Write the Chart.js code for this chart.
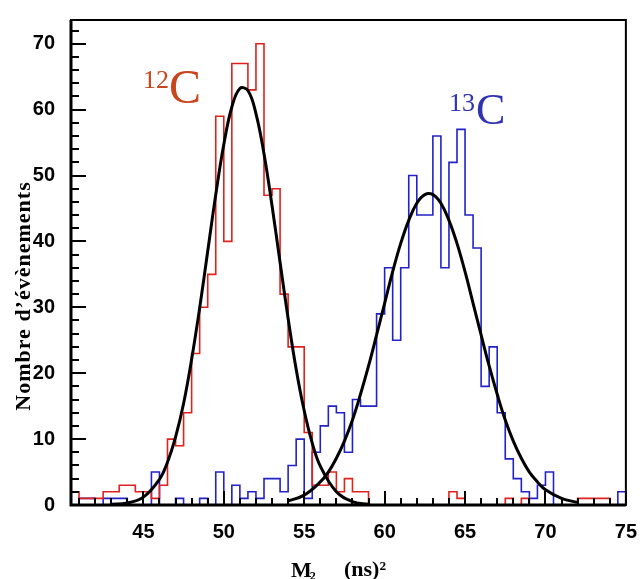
<!DOCTYPE html>
<html>
<head>
<meta charset="utf-8">
<title>M2 12C / 13C</title>
<script src="https://cdn.jsdelivr.net/npm/chart.js@4.4.0/dist/chart.umd.min.js"></script>
<style>
  html, body { margin: 0; padding: 0; background: #fff; }
  canvas { display: block; }
</style>
</head>
<body>
<canvas id="graph" width="644" height="579"></canvas>
<script>
// histogram bin edges, M2 in (ns)^2, bins 0.5 wide
var binEdges = [40.5, 41, 41.5, 42, 42.5, 43, 43.5, 44, 44.5, 45,
                45.5, 46, 46.5, 47, 47.5, 48, 48.5, 49, 49.5, 50,
                50.5, 51, 51.5, 52, 52.5, 53, 53.5, 54, 54.5, 55,
                55.5, 56, 56.5, 57, 57.5, 58, 58.5, 59, 59.5, 60,
                60.5, 61, 61.5, 62, 62.5, 63, 63.5, 64, 64.5, 65,
                65.5, 66, 66.5, 67, 67.5, 68, 68.5, 69, 69.5, 70,
                70.5, 71, 71.5, 72, 72.5, 73, 73.5, 74, 74.5, 75];

// counts per bin (one per left edge)
var counts12C = [2, 1, 1, 1, 2, 2, 3, 3, 2, 2,
                 1, 3, 10, 9, 14, 23, 30, 35, 59, 40,
                 67, 67, 63, 70, 47, 48, 32, 24, 24, 11,
                 3, 3, 5, 2, 4, 2, 2, 0, 0, 0,
                 0, 0, 0, 0, 0, 0, 0, 2, 1, 0,
                 0, 0, 0, 0, 1, 0, 1, 0, 0, 0,
                 0, 0, 0, 1, 1, 1, 1, 0, 0];

var counts13C = [0, 1, 1, 0, 1, 1, 1, 0, 0, 0,
                 5, 0, 0, 1, 0, 0, 1, 0, 5, 0,
                 3, 1, 2, 1, 4, 4, 2, 6, 10, 1,
                 8, 12, 15, 14, 8, 16, 15, 15, 29, 36,
                 25, 36, 50, 44, 44, 56, 36, 52, 57, 44,
                 39, 18, 24, 14, 7, 4, 2, 1, 3, 5,
                 0, 0, 0, 0, 0, 0, 0, 0, 2];

// fitted curves
var fit12X = [43, 44, 45, 46, 46.5, 47, 47.5, 48, 48.5, 49, 49.5, 50, 50.5, 51,
              51.5, 52, 52.5, 53, 53.5, 54, 54.5, 55, 55.5, 56, 57, 58, 59];
var fit12Y = [0.1, 0.3, 1.2, 3.9, 6.5, 10.3, 15.4, 22.1, 29.9, 38.5, 47.1, 54.7, 60.4, 63.2,
              62.9, 59.4, 53.3, 45.4, 36.8, 28.3, 20.6, 14.3, 9.4, 5.9, 2.0, 0.5, 0.1];

var fit13X = [54, 55, 56, 56.5, 57, 57.5, 58, 58.5, 59, 59.5, 60, 60.5, 61, 61.5, 62, 62.5,
              63, 63.5, 64, 64.5, 65, 65.5, 66, 66.5, 67, 67.5, 68, 68.5, 69, 69.5, 70, 71, 72];
var fit13Y = [0.6, 1.5, 3.5, 5.0, 7.1, 9.7, 12.9, 16.8, 21.1, 25.8, 30.6, 35.4, 39.7, 43.2, 45.8, 47.1,
              47.1, 45.8, 43.2, 39.7, 35.4, 30.6, 25.8, 21.1, 16.8, 12.9, 9.7, 7.1, 5.0, 3.5, 2.3, 1.0, 0.4];

var xTickValues = [45, 50, 55, 60, 65, 70, 75];
var yTickValues = [0, 10, 20, 30, 40, 50, 60, 70];

function histPoints(counts) {
    var pts = counts.map(function (c, i) { return {x: binEdges[i], y: c}; });
    pts.push({x: binEdges[binEdges.length - 1], y: 0});
    return pts;
}
function curvePoints(xs, ys) {
    return xs.map(function (v, i) { return {x: v, y: ys[i]}; });
}

var tickFont = {family: "'Liberation Sans', Arial, sans-serif", size: 20, weight: 'bold'};
var serif = '"Liberation Serif", "DejaVu Serif", serif';

var decorations = {
    id: 'decorations',
    afterDraw: function (chart) {
        var ctx = chart.ctx, a = chart.chartArea, xs = chart.scales.x, ys = chart.scales.y;
        ctx.save();
        ctx.strokeStyle = '#000';
        // frame
        ctx.lineWidth = 2;
        ctx.strokeRect(a.left, a.top, a.right - a.left, a.bottom - a.top);
        ctx.lineWidth = 3;
        ctx.beginPath();
        ctx.moveTo(a.left, a.top);
        ctx.lineTo(a.left, a.bottom);
        ctx.lineTo(a.right, a.bottom);
        ctx.stroke();
        // inward ticks
        ctx.lineWidth = 2;
        ctx.beginPath();
        for (var v = 0; v <= ys.max; v += 2) {
            var py = Math.round(ys.getPixelForValue(v));
            var len = yTickValues.indexOf(v) >= 0 ? 15 : 8;
            ctx.moveTo(a.left, py);
            ctx.lineTo(a.left + len, py);
        }
        for (var u = 41; u <= 75; u += 1) {
            var px = Math.round(xs.getPixelForValue(u));
            var len2 = xTickValues.indexOf(u) >= 0 ? 14 : 7;
            ctx.moveTo(px, a.bottom);
            ctx.lineTo(px, a.bottom - len2);
        }
        ctx.stroke();

        // species labels
        ctx.textAlign = 'left';
        ctx.textBaseline = 'alphabetic';
        ctx.fillStyle = '#c8461e';
        ctx.font = '26px ' + serif;
        ctx.fillText('12', 143, 88);
        var w = ctx.measureText('12').width;
        ctx.font = '48px ' + serif;
        ctx.fillText('C', 143 + w, 103);

        ctx.fillStyle = '#2f33b0';
        ctx.font = '26px ' + serif;
        ctx.fillText('13', 449, 111);
        w = ctx.measureText('13').width;
        ctx.font = '44px ' + serif;
        ctx.fillText('C', 449 + w + 1, 124);

        // axis titles
        ctx.fillStyle = '#000';
        ctx.font = 'bold 22px ' + serif;
        ctx.fillText('M', 291, 577);
        var mw = ctx.measureText('M').width;
        ctx.font = 'bold 12px ' + serif;
        ctx.fillText('2', 291 + mw - 2, 580);
        ctx.font = 'bold 22px ' + serif;
        ctx.fillText('(ns)²', 344, 576);

        ctx.translate(24, 296);
        ctx.rotate(-Math.PI / 2);
        ctx.textAlign = 'center';
        ctx.textBaseline = 'middle';
        ctx.font = 'bold 22px ' + serif;
        ctx.letterSpacing = '1px';
        ctx.fillText('Nombre d’évènements', 0, 0);
        ctx.restore();
    }
};

var canvas = document.querySelector('#graph');
var context = canvas.getContext('2d');

var myChart = new Chart(context, {
    type: 'line',
    data: {
        datasets: [
            {
                label: 'fit 12C',
                data: curvePoints(fit12X, fit12Y),
                borderColor: '#000',
                borderWidth: 3,
                tension: 0.4,
                pointRadius: 0,
                fill: false
            },
            {
                label: 'fit 13C',
                data: curvePoints(fit13X, fit13Y),
                borderColor: '#000',
                borderWidth: 3,
                tension: 0.4,
                pointRadius: 0,
                fill: false
            },
            {
                label: '12C',
                data: histPoints(counts12C),
                borderColor: '#e0221e',
                borderWidth: 1.6,
                stepped: 'before',
                pointRadius: 0,
                fill: false
            },
            {
                label: '13C',
                data: histPoints(counts13C),
                borderColor: '#2222c8',
                borderWidth: 1.6,
                stepped: 'before',
                pointRadius: 0,
                fill: false
            }
        ]
    },
    options: {
        responsive: false,
        animation: false,
        events: [],
        layout: {padding: {top: 10, right: 14, left: 0, bottom: 0}},
        plugins: {
            legend: {display: false},
            tooltip: {enabled: false}
        },
        scales: {
            x: {
                type: 'linear',
                min: 40.5,
                max: 75,
                grid: {display: false},
                border: {display: false},
                ticks: {
                    color: '#000',
                    font: tickFont,
                    padding: 7,
                    maxRotation: 0
                },
                afterBuildTicks: function (scale) {
                    scale.ticks = xTickValues.map(function (v) { return {value: v}; });
                },
                afterFit: function (scale) { scale.height = 74; }
            },
            y: {
                min: 0,
                max: 73.6,
                grid: {display: false},
                border: {display: false},
                ticks: {
                    color: '#000',
                    font: tickFont,
                    padding: 8
                },
                afterBuildTicks: function (scale) {
                    scale.ticks = yTickValues.map(function (v) { return {value: v}; });
                },
                afterFit: function (scale) { scale.width = 71; }
            }
        }
    },
    plugins: [decorations]
});
</script>
</body>
</html>
